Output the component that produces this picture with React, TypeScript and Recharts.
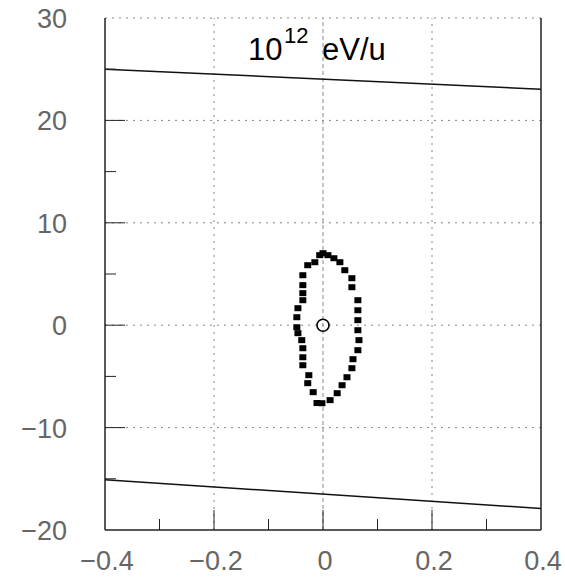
import React from 'react';
import { ScatterChart, Scatter, XAxis, YAxis, ReferenceLine } from 'recharts';

const xTicks = [-0.4, -0.3, -0.2, -0.1, 0, 0.1, 0.2, 0.3, 0.4];
const xMajor = [-0.4, -0.2, 0, 0.2, 0.4];
const xTickLabels = ['\u22120.4', '\u22120.2', '0', '0.2', '0.4'];
const yTicks = [-20, -15, -10, -5, 0, 5, 10, 15, 20, 25, 30];
const yMajor = [-20, -10, 0, 10, 20, 30];
const yTickLabels = ['\u221220', '\u221210', '0', '10', '20', '30'];
const gridX = [-0.2, 0, 0.2];
const gridY = [-10, 0, 10, 20, 30];

const ellipseX = [0.0, 0.009, 0.02, 0.031, 0.04, 0.053, 0.053, 0.064, 0.064, 0.064, 0.064, 0.066, 0.064, 0.055, 0.053, 0.044, 0.035, 0.026, 0.013, -0.002, -0.011, -0.018, -0.028, -0.026, -0.037, -0.037, -0.037, -0.039, -0.046, -0.048, -0.048, -0.046, -0.037, -0.037, -0.037, -0.037, -0.028, -0.015, -0.006];
const ellipseY = [7.03, 6.84, 6.54, 6.15, 5.37, 4.59, 3.71, 2.44, 1.46, 0.49, -0.49, -1.46, -2.44, -3.32, -4.2, -5.08, -5.86, -6.64, -7.32, -7.62, -7.6, -6.54, -5.66, -4.88, -3.91, -3.13, -2.25, -1.46, -0.78, -0.2, 0.78, 1.66, 2.44, 3.13, 3.91, 4.88, 5.86, 6.15, 6.84];

const centerX = [0];
const centerY = [0];

const upperX = [-0.4, 0.4];
const upperY = [25.0, 23.05];
const lowerX = [-0.4, 0.4];
const lowerY = [-15.1, -17.9];

const toPts = (xs: number[], ys: number[]) => xs.map((x, i) => ({ x, y: ys[i] }));

const ellipseData = toPts(ellipseX, ellipseY);
const centerData = toPts(centerX, centerY);
const upperData = toPts(upperX, upperY);
const lowerData = toPts(lowerX, lowerY);

const FONT = '"Liberation Sans", Arial, Helvetica, sans-serif';
const LABEL_COLOR = '#666';
const AXIS_COLOR = '#222';

const near = (a: number, b: number) => Math.abs(a - b) < 1e-9;

const XTick = (props: any) => {
  const { x, y, payload } = props;
  const v = payload.value;
  const mi = xMajor.findIndex((m) => near(m, v));
  const isMajor = mi >= 0;
  const isEdge = near(v, -0.4) || near(v, 0.4);
  return (
    <g>
      {!isEdge && (
        <line x1={x} y1={y} x2={x} y2={y - (isMajor ? 20 : 11)} stroke={AXIS_COLOR} strokeWidth={1} />
      )}
      {isMajor && (
        <text x={x + 2} y={y + 40} textAnchor="middle" fill={LABEL_COLOR} fontSize={27} fontFamily={FONT}>
          {xTickLabels[mi]}
        </text>
      )}
    </g>
  );
};

const YTick = (props: any) => {
  const { x, y, payload } = props;
  const v = payload.value;
  const mi = yMajor.findIndex((m) => near(m, v));
  const isMajor = mi >= 0;
  const isEdge = near(v, -20) || near(v, 30);
  return (
    <g>
      {!isEdge && (
        <line x1={x} y1={y} x2={x + (isMajor ? 20 : 11)} y2={y} stroke={AXIS_COLOR} strokeWidth={1} />
      )}
      {isMajor && (
        <text x={x - 38} y={y + 10} textAnchor="end" fill={LABEL_COLOR} fontSize={27} fontFamily={FONT}>
          {yTickLabels[mi]}
        </text>
      )}
    </g>
  );
};

const SquareShape = (props: any) => {
  const { cx, cy } = props;
  return <rect x={cx - 3.5} y={cy - 3} width={7} height={6} fill="#000" />;
};

const CircleShape = (props: any) => {
  const { cx, cy } = props;
  return <circle cx={cx} cy={cy} r={6} fill="none" stroke="#000" strokeWidth={1.6} />;
};

const NoShape = () => <g />;

export default function App() {
  return (
    <div style={{ position: 'absolute', left: 0, top: 0, width: 565, height: 577, background: '#fff' }}>
      <ScatterChart width={565} height={577} margin={{ top: 18, right: 24, bottom: 0, left: 0 }}>
        <XAxis
          type="number"
          dataKey="x"
          domain={[-0.4, 0.4]}
          ticks={xTicks}
          interval={0}
          tickSize={0}
          tickMargin={0}
          height={47}
          tick={<XTick />}
          axisLine={{ stroke: AXIS_COLOR, strokeWidth: 1.5 }}
          allowDataOverflow
        />
        <YAxis
          type="number"
          dataKey="y"
          domain={[-20, 30]}
          ticks={yTicks}
          interval={0}
          tickSize={0}
          tickMargin={0}
          width={105}
          tick={<YTick />}
          axisLine={{ stroke: AXIS_COLOR, strokeWidth: 1.5 }}
          allowDataOverflow
        />
        {gridX.map((g) => (
          <ReferenceLine key={'gx' + g} x={g} stroke="#888" strokeWidth={1} strokeDasharray={g === 0 ? '4 3' : '2 5'} />
        ))}
        {gridY.map((g) => (
          <ReferenceLine key={'gy' + g} y={g} stroke="#888" strokeWidth={1} strokeDasharray="2 5" />
        ))}
        <ReferenceLine x={0.4} stroke={AXIS_COLOR} strokeWidth={1.5} />
        <Scatter data={upperData} line={{ stroke: '#111', strokeWidth: 1.5 }} shape={<NoShape />} isAnimationActive={false} />
        <Scatter data={lowerData} line={{ stroke: '#111', strokeWidth: 1.5 }} shape={<NoShape />} isAnimationActive={false} />
        <Scatter data={ellipseData} shape={<SquareShape />} isAnimationActive={false} />
        <Scatter data={centerData} shape={<CircleShape />} isAnimationActive={false} />
        <text fontFamily={FONT} fill="#000">
          <tspan x={248} y={60} fontSize={31}>10</tspan>
          <tspan x={284} y={43} fontSize={22}>12</tspan>
          <tspan x={322} y={60} fontSize={31}>eV/u</tspan>
        </text>
      </ScatterChart>
    </div>
  );
}
